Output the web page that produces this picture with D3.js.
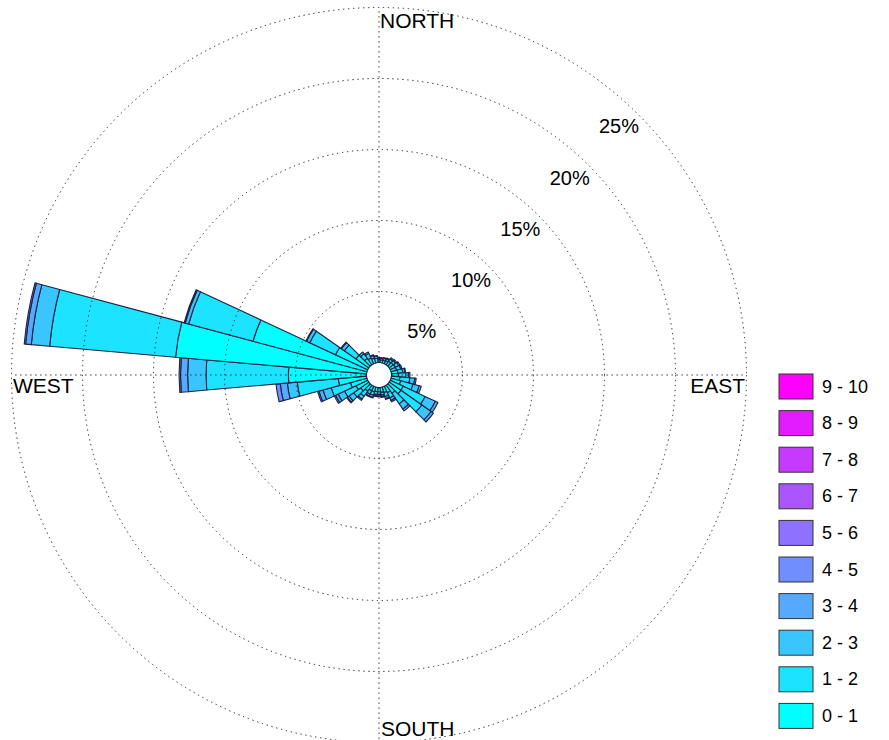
<!DOCTYPE html>
<html>
<head>
<meta charset="utf-8">
<script src="https://cdn.jsdelivr.net/npm/d3@7"></script>
<style>
  html, body { margin: 0; padding: 0; background: #fff; }
  svg { display: block; font-family: Arial, "Liberation Sans", sans-serif; }
</style>
</head>
<body>
<svg id="chart" width="889" height="740"></svg>
<script>
// Wind directions (degrees clockwise from north), 10-degree sectors
const directions = [0,10,20,30,40,50,60,70,80,90,100,110,120,130,140,150,160,170,
                    180,190,200,210,220,230,240,250,260,270,280,290,300,310,320,330,340,350];

// Frequency (%) per speed bin and direction
const s01 = [0.2,0.2,0.2,0.25,0.3,0.35,0.4,0.4,0.45,0.5,0.6,0.7,1.0,1.0,0.7,0.5,0.4,0.35,
             0.3,0.3,0.35,0.35,0.5,0.7,0.9,1.2,2.0,5.5,13.5,8.3,2.5,1.1,0.55,0.45,0.35,0.3];
const s12 = [0.1,0.1,0.15,0.15,0.2,0.2,0.25,0.3,0.35,0.5,0.7,0.9,1.7,1.8,0.9,0.4,0.3,0.2,
             0.2,0.2,0.25,0.25,0.45,0.6,0.9,1.4,2.9,5.8,8.9,4.7,2.0,1.0,0.4,0.35,0.2,0.15];
const s23 = [0.05,0.05,0.05,0.05,0.1,0.1,0.1,0.1,0.15,0.2,0.35,0.45,0.8,0.8,0.45,0.2,0.15,0.1,
             0.1,0.1,0.15,0.15,0.25,0.4,0.5,0.6,0.7,1.3,1.3,0.25,0.25,0.25,0.15,0.1,0.05,0.05];
const s34 = [0,0,0,0,0,0,0,0,0.05,0.1,0.1,0.15,0.2,0.2,0.15,0.1,0.05,0.05,
             0.05,0.05,0.05,0.05,0.1,0.15,0.2,0.3,0.5,0.5,0.4,0.08,0.05,0.05,0,0,0,0];
const s45 = [0,0,0,0,0,0,0,0,0,0,0,0,0,0,0,0,0,0,
             0,0,0,0,0,0.05,0.1,0.1,0.3,0.1,0.1,0,0,0,0,0,0,0];

// Speed bin labels (legend) low -> high
const speedBins = ["0 - 1","1 - 2","2 - 3","3 - 4","4 - 5","5 - 6","6 - 7","7 - 8","8 - 9","9 - 10"];
const ringTicks = [5,10,15,20,25];
const compassLabels = ["NORTH","EAST","SOUTH","WEST"];

const series = [s01, s12, s23, s34, s45];

const svg = d3.select("#chart");
const cx = 379, cy = 375;
const r = d3.scaleLinear().domain([0, 25]).range([12.5, 12.5 + 25 * 14.2]);
const R = r(25);

// cool colormap
const color = d3.scaleOrdinal()
  .domain(speedBins)
  .range(speedBins.map((_, i) => {
    const t = i / (speedBins.length - 1);
    return d3.rgb(Math.round(255 * t), Math.round(255 * (1 - t)), 255).toString();
  }));

const g = svg.append("g").attr("transform", `translate(${cx},${cy})`);

// build stacked segments
const segs = [];
directions.forEach((dir, j) => {
  let cum = 0;
  series.forEach((s, i) => {
    const v = s[j];
    if (v > 0) {
      segs.push({dir, y0: cum, y1: cum + v, bin: speedBins[i]});
      cum += v;
    }
  });
});

const rad = Math.PI / 180;
const arc = d3.arc()
  .innerRadius(d => r(d.y0))
  .outerRadius(d => r(d.y1))
  .startAngle(d => (d.dir - 5) * rad)
  .endAngle(d => (d.dir + 5) * rad);

g.selectAll("path.seg").data(segs).join("path")
  .attr("class", "seg")
  .attr("d", arc)
  .attr("fill", d => color(d.bin))
  .attr("stroke", "#1c2240")
  .attr("stroke-width", 1.1)
  .attr("stroke-linejoin", "round");

const dotColor = "#222";
const dotDash = "1.3,3.7";

// grid circles (dotted)
g.selectAll("circle.grid").data(ringTicks).join("circle")
  .attr("class", "grid")
  .attr("r", d => r(d))
  .attr("fill", "none")
  .attr("stroke", dotColor)
  .attr("stroke-width", 1)
  .attr("stroke-dasharray", dotDash);

// axis lines (dotted), from inner hole outward
[0, 90, 180, 270].forEach(a => {
  const s = Math.sin(a * rad), c = -Math.cos(a * rad);
  g.append("line")
    .attr("x1", r(0) * s).attr("y1", r(0) * c)
    .attr("x2", R * s).attr("y2", R * c)
    .attr("stroke", dotColor)
    .attr("stroke-width", 1)
    .attr("stroke-dasharray", dotDash);
});

// ring labels
g.selectAll("text.tick").data(ringTicks).join("text")
  .attr("class", "tick")
  .attr("x", d => (r(d) - 22) * Math.sin(44 * rad))
  .attr("y", d => -(r(d) - 22) * Math.cos(44 * rad))
  .attr("text-anchor", "middle")
  .attr("dominant-baseline", "central")
  .attr("font-size", 20)
  .attr("fill", "#000")
  .text(d => d + "%");

// compass labels
svg.append("text").attr("x", cx + 1).attr("y", 28).attr("font-size", 21).attr("fill", "#000").text(compassLabels[0]);
svg.append("text").attr("x", 745).attr("y", 393).attr("text-anchor", "end").attr("font-size", 21).attr("fill", "#000").text(compassLabels[1]);
svg.append("text").attr("x", cx + 2).attr("y", 736).attr("font-size", 21).attr("fill", "#000").text(compassLabels[2]);
svg.append("text").attr("x", 13).attr("y", 393).attr("font-size", 21).attr("fill", "#000").text(compassLabels[3]);

// legend
const legendBins = speedBins.slice().reverse();
const ly = d3.scaleBand().domain(legendBins).range([374, 374 + 36.6 * 10]);
const lg = svg.append("g");
lg.selectAll("rect").data(legendBins).join("rect")
  .attr("x", 779).attr("y", d => ly(d))
  .attr("width", 34).attr("height", 25)
  .attr("fill", d => color(d))
  .attr("stroke", "#333").attr("stroke-width", 1);
lg.selectAll("text").data(legendBins).join("text")
  .attr("x", 822).attr("y", d => ly(d) + 12.5)
  .attr("dominant-baseline", "central")
  .attr("font-size", 18).attr("fill", "#000")
  .text(d => d);
</script>
</body>
</html>
